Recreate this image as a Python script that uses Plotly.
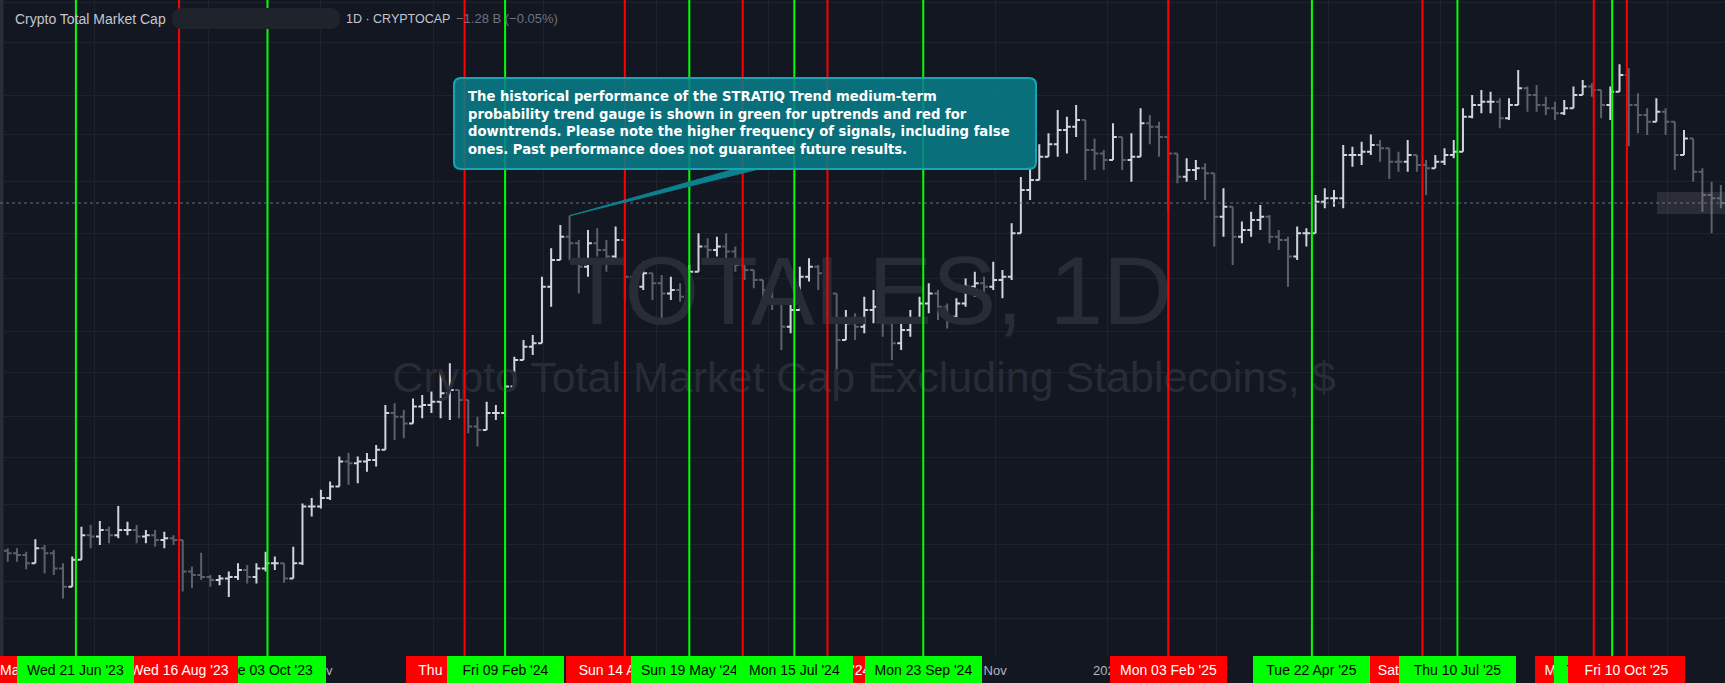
import math
import pandas as pd
import plotly.graph_objects as go

# ---------------- data (billions USD, 5-day bars) ----------------
bar_start = "2023-05-15"
close = [943, 938, 916, 957, 943, 902, 855, 925, 994, 990,
         1009, 994, 1009, 1009, 990, 994, 980, 985, 980, 894,
         885, 880, 872, 876, 880, 898, 880, 902, 916, 916,
         876, 916, 1081, 1081, 1108, 1146, 1233, 1227, 1233, 1239,
         1276, 1421, 1406, 1378, 1448, 1455, 1469, 1505, 1520, 1476,
         1366, 1352, 1421, 1421, 1535, 1659, 1725, 1742, 2056, 2223,
         2380, 2335, 2180, 2335, 2289, 2245, 2357, 2117, 2056, 2138,
         2077, 2016, 2036, 1997, 2148, 2312, 2289, 2312, 2278, 2191,
         2159, 2097, 2036, 1978, 1829, 1920, 2117, 2180, 2138, 2016,
         1759, 1847, 1829, 1920, 1939, 1847, 1742, 1811, 1865, 1958,
         2016, 1939, 1883, 1958, 2056, 2077, 2056, 2097, 2117, 2404,
         2728, 2809, 3007, 3118, 3251, 3283, 3347, 3066, 3036, 2978,
         3186, 2978, 3007, 3315, 3283, 3186, 3036, 2836, 2892, 2906,
         2864, 2523, 2598, 2380, 2427, 2499, 2523, 2380, 2357, 2245,
         2404, 2404, 2636, 2662, 2662, 3022, 3022, 3051, 3111, 3081,
         2963, 2963, 3022, 2935, 2906, 2963, 3022, 3051, 3380, 3498,
         3532, 3532, 3364, 3498, 3672, 3601, 3498, 3464, 3414, 3464,
         3601, 3691, 3654, 3498, 3636, 3818, 3498, 3397, 3331, 3430,
         3331, 3022, 3170, 2878, 2688, 2662, 2626]
high = [957, 957, 947, 982, 966, 952, 916, 934, 1019, 1024,
        1036, 1019, 1083, 1034, 1024, 1009, 1009, 1004, 994, 971,
        907, 944, 885, 885, 894, 916, 911, 916, 947, 934,
        907, 961, 1091, 1108, 1135, 1163, 1251, 1264, 1251, 1264,
        1294, 1455, 1462, 1434, 1483, 1498, 1513, 1612, 1643, 1505,
        1448, 1406, 1469, 1455, 1596, 1675, 1759, 1785, 2117, 2300,
        2463, 2530, 2357, 2427, 2439, 2357, 2451, 2392, 2148, 2212,
        2128, 2128, 2117, 2077, 2191, 2404, 2369, 2380, 2404, 2312,
        2201, 2159, 2066, 2097, 1902, 1978, 2180, 2234, 2191, 2117,
        1978, 1920, 1902, 1997, 2036, 1939, 1847, 1865, 1920, 1997,
        2077, 2036, 1958, 1988, 2106, 2148, 2117, 2212, 2159, 2475,
        2834, 2920, 3118, 3219, 3447, 3380, 3498, 3186, 3170, 3066,
        3315, 3157, 3219, 3464, 3397, 3331, 3096, 3007, 2993, 2978,
        2949, 2864, 2742, 2499, 2487, 2560, 2611, 2536, 2427, 2380,
        2451, 2439, 2688, 2742, 2728, 3111, 3096, 3142, 3209, 3157,
        3051, 3051, 3157, 3022, 2978, 3022, 3081, 3157, 3464, 3601,
        3654, 3636, 3566, 3566, 3874, 3691, 3708, 3583, 3532, 3549,
        3691, 3763, 3726, 3583, 3691, 3939, 3893, 3619, 3464, 3566,
        3464, 3251, 3251, 3022, 2906, 2795, 2768]
low = [920, 920, 900, 925, 889, 885, 826, 872, 957, 957,
       966, 971, 985, 994, 971, 971, 961, 957, 966, 843,
       851, 872, 855, 859, 830, 872, 863, 863, 894, 898,
       865, 876, 911, 1050, 1075, 1102, 1146, 1152, 1157, 1197,
       1215, 1294, 1313, 1320, 1385, 1399, 1421, 1399, 1392, 1399,
       1339, 1288, 1366, 1392, 1406, 1535, 1675, 1684, 1742, 1939,
       2267, 2221, 2016, 2117, 2245, 2148, 2221, 1978, 1920, 2036,
       1978, 1847, 1978, 1968, 2097, 2159, 2234, 2245, 2223, 2148,
       2097, 2046, 1978, 1920, 1709, 1794, 1978, 2087, 2036, 1978,
       1490, 1776, 1759, 1794, 1847, 1776, 1659, 1709, 1776, 1847,
       1902, 1865, 1820, 1847, 1939, 1997, 1997, 2036, 1988, 2097,
       2451, 2649, 2809, 3007, 3007, 3036, 3186, 2809, 2892, 2892,
       3007, 2892, 2795, 3118, 3118, 3007, 2573, 2782, 2795, 2809,
       2649, 2312, 2380, 2191, 2335, 2380, 2427, 2335, 2289, 2056,
       2223, 2312, 2415, 2586, 2598, 2586, 2920, 2935, 3022, 2963,
       2817, 2878, 2878, 2878, 2688, 2920, 2935, 2993, 3111, 3364,
       3414, 3414, 3267, 3347, 3532, 3430, 3430, 3397, 3347, 3397,
       3481, 3601, 3583, 3364, 3347, 3672, 3100, 3219, 3203, 3331,
       3203, 2892, 3022, 2795, 2560, 2404, 2586]
first_open = 950

# trend-gauge signals (listed bottom-to-top in drawing order of their labels)
signal_dates = ["2023-10-03", "2023-08-16", "2023-05-10", "2023-06-21", "2024-01-18",
                "2024-02-09", "2024-04-14", "2024-06-17", "2024-08-02", "2024-09-23",
                "2024-05-19", "2024-07-15", "2025-02-03", "2025-06-21", "2025-04-22",
                "2025-07-10", "2025-09-22", "2025-10-02", "2025-10-10"]
signal_kind = ["up", "down", "down", "up", "down",
               "up", "down", "down", "down", "up",
               "up", "up", "down", "down", "up",
               "up", "down", "up", "down"]
signal_text = ["Tue 03 Oct '23", "Wed 16 Aug '23", "Wed 10 May '23", "Wed 21 Jun '23", "Thu 18 Jan '24",
               "Fri 09 Feb '24", "Sun 14 Apr '24", "Mon 17 Jun '24", "Fri 02 Aug '24", "Mon 23 Sep '24",
               "Sun 19 May '24", "Mon 15 Jul '24", "Mon 03 Feb '25", "Sat 21 Jun '25", "Tue 22 Apr '25",
               "Thu 10 Jul '25", "Mon 22 Sep '25", "Thu 02 Oct '25", "Fri 10 Oct '25"]

month_ticks = ["2023-07-01", "2023-09-01", "2023-11-01", "2024-01-01", "2024-03-01", "2024-05-01",
               "2024-07-01", "2024-09-01", "2024-11-01", "2025-01-01", "2025-03-01", "2025-05-01",
               "2025-07-01", "2025-09-01", "2025-11-01"]
month_text = ["Jul", "Sep", "Nov", "2024", "Mar", "May", "Jul", "Sep", "Nov", "2025", "Mar", "May",
              "Jul", "Sep", "Nov"]
grid_prices = [4713, 4196, 3601, 3204, 2800, 2399, 2103, 1801, 1602, 1405, 1246, 1089, 966, 869, 780]

note_lines = ["The historical performance of the STRATIQ Trend medium-term",
              "probability trend gauge is shown in green for uptrends and red for",
              "downtrends. Please note the higher frequency of signals, including false",
              "ones. Past performance does not guarantee future results."]

# ---------------- layout geometry ----------------
W, H = 1725, 683
AXIS_H = 27
PLOT_H = H - AXIS_H
X_START = pd.Timestamp("2023-05-10 19:00")
X_END = pd.Timestamp("2025-12-02 06:15")
Y0, Y1 = 2.8440, 3.6771          # log10 of visible price range

BG = "#131722"
GRID = "#1e222d"
UP_C = "#d1d4dc"
DOWN_C = "#5d606b"
RED = "#ff0000"
GREEN = "#00ff00"


def px_of_date(d):
    d = pd.Timestamp(d)
    return (d - X_START) / (X_END - X_START) * W


def date_of_px(px):
    return X_START + (X_END - X_START) * (px / W)


def py_of_price(p):
    return (Y1 - math.log10(p)) / (Y1 - Y0) * PLOT_H


def price_of_py(py):
    return 10 ** (Y1 - (Y1 - Y0) * py / PLOT_H)


def pxp(px):
    return px / W


def pyp(py):
    return 1 - py / PLOT_H


dates = pd.date_range(bar_start, periods=len(close), freq="5D")
opens = [first_open] + close[:-1]
hi = [max(h, o, c) for h, o, c in zip(high, opens, close)]
lo = [min(l, o, c) for l, o, c in zip(low, opens, close)]

fig = go.Figure()

# watermark (drawn under the bars)
wm_font = "Liberation Sans"
fig.add_trace(go.Scatter(x=[date_of_px(870)], y=[price_of_py(300)], mode="text",
                         text=["TOTALES, 1D"], textposition="middle center",
                         textfont=dict(size=96, color="#282c37", family=wm_font),
                         hoverinfo="skip", showlegend=False))
fig.add_trace(go.Scatter(x=[date_of_px(864)], y=[price_of_py(381)], mode="text",
                         text=["Crypto Total Market Cap Excluding Stablecoins, $"],
                         textposition="middle center",
                         textfont=dict(size=43, color="#282c37", family=wm_font),
                         hoverinfo="skip", showlegend=False))

fig.add_trace(go.Ohlc(x=dates, open=opens, high=hi, low=lo, close=close,
                      increasing=dict(line=dict(color=UP_C, width=2)),
                      decreasing=dict(line=dict(color=DOWN_C, width=2)),
                      tickwidth=0.42, hoverinfo="skip", showlegend=False))

shapes = []
# left edge strip
shapes.append(dict(type="rect", xref="paper", yref="paper", x0=0, x1=pxp(3.5), y0=pyp(H), y1=1,
                   fillcolor="#2a2d35", line=dict(width=0), layer="above"))
# last price dotted line
shapes.append(dict(type="line", xref="paper", yref="paper", x0=0, x1=1,
                   y0=pyp(py_of_price(close[-1])), y1=pyp(py_of_price(close[-1])),
                   line=dict(color="#6a6d78", width=1, dash="dot"), layer="above"))
# signal lines
for d, k in zip(signal_dates, signal_kind):
    shapes.append(dict(type="line", xref="x", yref="paper", x0=d, x1=d, y0=0, y1=1,
                       line=dict(color=GREEN if k == "up" else RED, width=2), layer="above"))

# callout box pointing at the March 2024 high
peak_i = max(range(70), key=lambda i: hi[i])
tip_x, tip_y = px_of_date(dates[peak_i]), py_of_price(hi[peak_i])
bx0, bx1, by0, by1, r = 454, 1036, 78, 169, 7
box_fill = "rgba(8,126,139,0.86)"
shapes.append(dict(type="path", xref="paper", yref="paper",
                   path=f"M {pxp(735)},{pyp(by1)} L {pxp(tip_x)},{pyp(tip_y)} L {pxp(759)},{pyp(by1)} Z",
                   fillcolor="#0b8190", line=dict(color="#0b8190", width=1), layer="above"))
rr = (f"M {pxp(bx0 + r)},{pyp(by0)} L {pxp(bx1 - r)},{pyp(by0)} "
      f"Q {pxp(bx1)},{pyp(by0)} {pxp(bx1)},{pyp(by0 + r)} "
      f"L {pxp(bx1)},{pyp(by1 - r)} Q {pxp(bx1)},{pyp(by1)} {pxp(bx1 - r)},{pyp(by1)} "
      f"L {pxp(bx0 + r)},{pyp(by1)} Q {pxp(bx0)},{pyp(by1)} {pxp(bx0)},{pyp(by1 - r)} "
      f"L {pxp(bx0)},{pyp(by0 + r)} Q {pxp(bx0)},{pyp(by0)} {pxp(bx0 + r)},{pyp(by0)} Z")
shapes.append(dict(type="path", xref="paper", yref="paper", path=rr, fillcolor=box_fill,
                   line=dict(color="#18a4b4", width=2), layer="above"))
# header redaction pill
px0, px1, py0_, py1_, pr = 172, 340, 8, 29, 9
pill = (f"M {pxp(px0 + pr)},{pyp(py0_)} L {pxp(px1 - pr)},{pyp(py0_)} "
        f"Q {pxp(px1)},{pyp(py0_)} {pxp(px1)},{pyp((py0_ + py1_) / 2)} "
        f"Q {pxp(px1)},{pyp(py1_)} {pxp(px1 - pr)},{pyp(py1_)} "
        f"L {pxp(px0 + pr)},{pyp(py1_)} Q {pxp(px0)},{pyp(py1_)} {pxp(px0)},{pyp((py0_ + py1_) / 2)} "
        f"Q {pxp(px0)},{pyp(py0_)} {pxp(px0 + pr)},{pyp(py0_)} Z")
shapes.append(dict(type="path", xref="paper", yref="paper", path=pill, fillcolor="#1f232c",
                   line=dict(width=0), layer="above"))
# blurred price label at the right edge
shapes.append(dict(type="rect", xref="paper", yref="paper", x0=pxp(1657), x1=1,
                   y0=pyp(214), y1=pyp(192), fillcolor="rgba(150,152,160,0.18)",
                   line=dict(width=0), layer="above"))

annotations = []
line_y = [96.8, 114.2, 131.6, 149.0]
for t, yy in zip(note_lines, line_y):
    annotations.append(dict(xref="paper", yref="paper", x=pxp(466), y=pyp(yy), xanchor="left",
                            yanchor="middle", align="left", showarrow=False, text="<b>" + t + "</b>",
                            font=dict(family="DejaVu Sans", size=13.2, color="#ffffff")))

# header legend
annotations.append(dict(xref="paper", yref="paper", x=pxp(13), y=pyp(19), xanchor="left", yanchor="middle",
                        showarrow=False, text="Crypto Total Market Cap",
                        font=dict(family="Liberation Sans", size=14, color="#c3c6ce")))
annotations.append(dict(xref="paper", yref="paper", x=pxp(344), y=pyp(19), xanchor="left", yanchor="middle",
                        showarrow=False, text="1D · CRYPTOCAP",
                        font=dict(family="Liberation Sans", size=12.5, color="#c3c6ce")))
annotations.append(dict(xref="paper", yref="paper", x=pxp(454), y=pyp(19), xanchor="left", yanchor="middle",
                        showarrow=False, text="−1.28 B (−0.05%)",
                        font=dict(family="Liberation Sans", size=13, color="#6f727d")))

# signal labels on the time axis (placed in paper space so off-range ones still show)
for d, k, t in zip(signal_dates, signal_kind, signal_text):
    annotations.append(dict(xref="paper", yref="paper", x=pxp(px_of_date(d)), y=0,
                            xanchor="center", yanchor="top",
                            showarrow=False, text=t, width=107, height=17, borderpad=5, borderwidth=0,
                            bgcolor=GREEN if k == "up" else RED,
                            font=dict(family="Liberation Sans", size=14,
                                      color="#000000" if k == "up" else "#ffffff")))

fig.update_layout(
    width=W, height=H, margin=dict(l=0, r=0, t=0, b=AXIS_H),
    paper_bgcolor=BG, plot_bgcolor=BG, showlegend=False,
    shapes=shapes, annotations=annotations,
    xaxis=dict(type="date", range=[X_START, X_END], tickvals=month_ticks, ticktext=month_text,
               showgrid=True, gridcolor=GRID, gridwidth=1, zeroline=False, showline=False, ticks="",
               ticklabelstandoff=5,
               tickfont=dict(family="Liberation Sans", size=13, color="#b2b5be"),
               rangeslider=dict(visible=False), fixedrange=True),
    yaxis=dict(type="log", range=[Y0, Y1], tickvals=grid_prices, showticklabels=False,
               showgrid=True, gridcolor=GRID, gridwidth=1, zeroline=False, showline=False, ticks="",
               fixedrange=True),
)

fig.write_html("out.html", config={"displayModeBar": False},
               post_script="document.body.style.margin='0px';document.body.style.overflow='hidden';")
